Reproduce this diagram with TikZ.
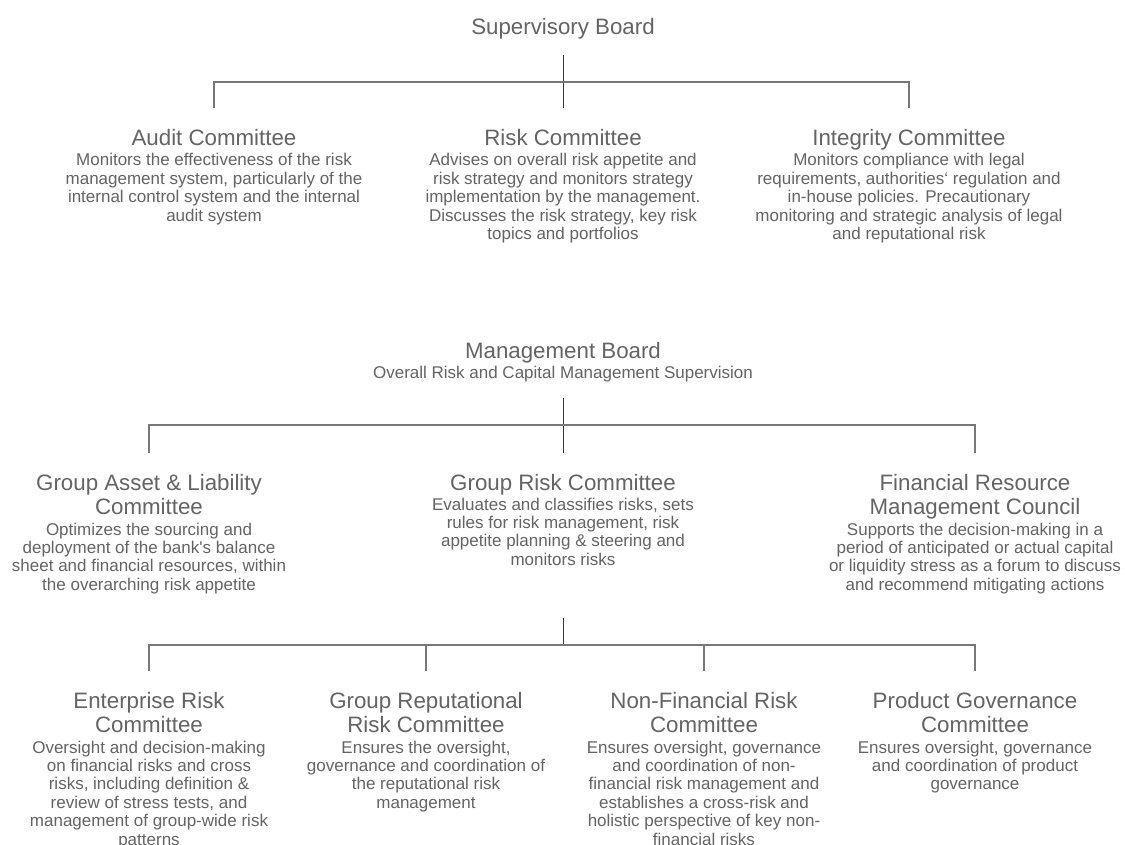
\documentclass[tikz,border=0pt]{standalone}
\usepackage{fontspec}
\setmainfont{Liberation Sans}[Ligatures=TeXOff]

\definecolor{txtgray}{RGB}{100,100,100}
\definecolor{bargray}{RGB}{120,120,120}
\definecolor{stemgray}{RGB}{55,55,55}

\tikzset{
  head/.style={anchor=north, inner sep=0pt, align=center, text=txtgray, font=\fontsize{22.3}{24.5}\selectfont},
  desc/.style={anchor=north, inner sep=0pt, align=center, text=txtgray, font=\fontsize{17}{18.4}\selectfont},
  bar/.style={draw=bargray, line width=1.1pt},
  stem/.style={draw=stemgray, line width=0.9pt},
}

\begin{document}
\begin{tikzpicture}[x=1pt, y=-1pt]
\fill[white] (0,0) rectangle (1125,844);
\useasboundingbox (0,0) rectangle (1125,844);

% supervisory board
\node[name=sb, head] at (563,18) {Supervisory Board};

\node[name=audit, head] at (214,128.7) {Audit Committee};
\node[name=auditd, desc] at (214,153.3) {Monitors the effectiveness of the risk\\management system, particularly of the\\internal control system and the internal\\audit system};

\node[name=risk, head] at (563,128.7) {Risk Committee};
\node[name=riskd, desc] at (563,153.3) {Advises on overall risk appetite and\\risk strategy and monitors strategy\\implementation by the management.\\Discusses the risk strategy, key risk\\topics and portfolios};

\node[name=integ, head] at (909,128.7) {Integrity Committee};
\node[name=integd, desc] at (909,153.3) {Monitors compliance with legal\\requirements, authorities‘ regulation and\\in-house policies. Precautionary\\monitoring and strategic analysis of legal\\and reputational risk};

\coordinate (sbtop) at (563,55);
\coordinate (sbbar) at (563,82);
\draw[stem] (sbtop) -- ([yshift=21pt]risk.north);
\draw[bar] ([yshift=21pt]audit.north) |- (sbbar) -| ([yshift=21pt]integ.north);

% management board
\node[name=mb, head] at (563,342) {Management Board};
\node[name=mbd, desc] at (563,366.3) {Overall Risk and Capital Management Supervision};

\node[name=alco, head] at (149,473.7) {Group Asset \& Liability\\Committee};
\node[name=alcod, desc] at (149,522.6) {Optimizes the sourcing and\\deployment of the bank's balance\\sheet and financial resources, within\\the overarching risk appetite};

\node[name=grc, head] at (563,473.7) {Group Risk Committee};
\node[name=grcd, desc] at (563,497.6) {Evaluates and classifies risks, sets\\rules for risk management, risk\\appetite planning \& steering and\\monitors risks};

\node[name=frmc, head] at (975,473.7) {Financial Resource\\Management Council};
\node[name=frmcd, desc] at (975,522.6) {Supports the decision-making in a\\period of anticipated or actual capital\\or liquidity stress as a forum to discuss\\and recommend mitigating actions};

\coordinate (mbtop) at (563,398);
\coordinate (mbbar) at (563,425);
\draw[stem] (mbtop) -- ([yshift=21pt]grc.north);
\draw[bar] ([yshift=21pt]alco.north) |- (mbbar) -| ([yshift=21pt]frmc.north);

% committees below the group risk committee
\node[name=erc, head] at (149,691.7) {Enterprise Risk\\Committee};
\node[name=ercd, desc] at (149,740.6) {Oversight and decision-making\\on financial risks and cross\\risks, including definition \&\\review of stress tests, and\\management of group-wide risk\\patterns};

\node[name=grrc, head] at (426,691.7) {Group Reputational\\Risk Committee};
\node[name=grrcd, desc] at (426,740.6) {Ensures the oversight,\\governance and coordination of\\the reputational risk\\management};

\node[name=nfrc, head] at (704,691.7) {Non-Financial Risk\\Committee};
\node[name=nfrcd, desc] at (704,740.6) {Ensures oversight, governance\\and coordination of non-\\financial risk management and\\establishes a cross-risk and\\holistic perspective of key non-\\financial risks};

\node[name=pgc, head] at (975,691.7) {Product Governance\\Committee};
\node[name=pgcd, desc] at (975,740.6) {Ensures oversight, governance\\and coordination of product\\governance};

\coordinate (grctop) at (563,618);
\coordinate (grcbar) at (563,645);
\draw[stem] (grctop) -- (grcbar);
\draw[bar] ([yshift=21pt]erc.north) |- (grcbar) -| ([yshift=21pt]pgc.north);
\draw[bar] (grcbar -| grrc.north) -- ([yshift=21pt]grrc.north);
\draw[bar] (grcbar -| nfrc.north) -- ([yshift=21pt]nfrc.north);
\end{tikzpicture}
\end{document}
